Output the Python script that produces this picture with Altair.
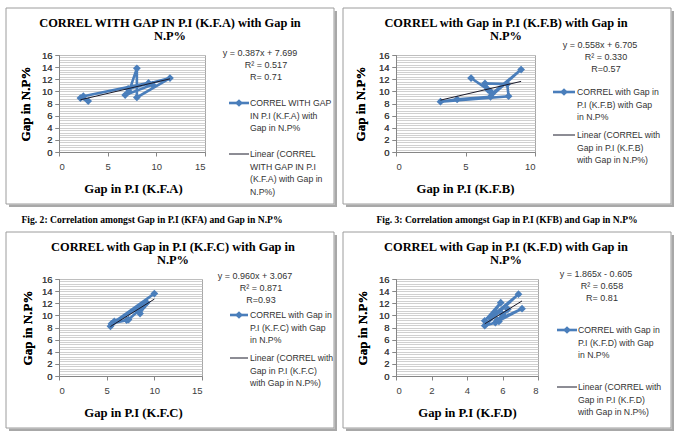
import altair as alt
import pandas as pd

# ---------------- data ----------------
kfa_x = [2.2, 3.0, 2.5, 9.2, 9.6, 6.8, 7.2, 8.0, 8.0, 11.4, 7.1]
kfa_y = [8.9, 8.4, 9.2, 11.4, 11.1, 9.4, 10.0, 13.8, 9.0, 12.2, 10.4]

kfb_x = [5.4, 6.8, 6.4, 8.0, 8.1, 3.2, 4.4, 6.8, 9.0, 6.9, 6.6]
kfb_y = [12.2, 10.0, 11.3, 11.2, 9.2, 8.3, 8.7, 9.1, 13.6, 9.6, 10.3]

kfc_x = [5.4, 10.0, 5.6, 7.1, 5.8, 9.2, 8.5, 8.8, 7.3, 9.0, 5.5]
kfc_y = [8.2, 13.6, 8.7, 9.2, 9.0, 12.1, 10.3, 11.4, 9.3, 11.8, 8.6]

kfd_x = [5.0, 5.9, 5.3, 6.9, 5.0, 5.6, 7.1, 5.7, 6.3, 5.8, 6.0]
kfd_y = [9.1, 12.1, 9.6, 13.5, 8.3, 8.8, 11.1, 9.2, 11.0, 9.0, 10.2]

titles = [
    ["CORREL WITH GAP IN P.I (K.F.A) with Gap in", "N.P%"],
    ["CORREL with Gap in P.I (K.F.B) with Gap in", "N.P%"],
    ["CORREL with Gap in P.I (K.F.C) with Gap in", "N.P%"],
    ["CORREL with Gap in P.I (K.F.D) with Gap in", "N.P%"],
]
x_titles = ["Gap in P.I (K.F.A)", "Gap in P.I (K.F.B)", "Gap in P.I (K.F.C)", "Gap in P.I (K.F.D)"]
y_title = "Gap in N.P%"
equations = [
    ["y = 0.387x + 7.699", "R² = 0.517", "R= 0.71"],
    ["y = 0.558x + 6.705", "R² = 0.330", "R=0.57"],
    ["y = 0.960x + 3.067", "R² = 0.871", "R=0.93"],
    ["y = 1.865x - 0.605", "R² = 0.658", "R= 0.81"],
]
series_labels = [
    ["CORREL WITH GAP", "IN P.I (K.F.A) with", "Gap in N.P%"],
    ["CORREL with Gap in", "P.I (K.F.B) with Gap", "in N.P%"],
    ["CORREL with Gap in", "P.I (K.F.C) with Gap", "in N.P%"],
    ["CORREL with Gap in", "P.I (K.F.D) with Gap", "in N.P%"],
]
trend_labels = [
    ["Linear (CORREL", "WITH GAP IN P.I", "(K.F.A) with Gap in", "N.P%)"],
    ["Linear (CORREL with", "Gap in P.I (K.F.B)", "with Gap in N.P%)"],
    ["Linear (CORREL with", "Gap in P.I (K.F.C)", "with Gap in N.P%)"],
    ["Linear (CORREL with", "Gap in P.I (K.F.D)", "with Gap in N.P%)"],
]
x_max = [15, 10, 15, 8]
x_step = [5, 5, 5, 2]
y_ticks = [0, 2, 4, 6, 8, 10, 12, 14, 16]
captions = [
    "Fig. 2: Correlation amongst Gap in P.I (KFA) and Gap in N.P%",
    "Fig. 3: Correlation amongst Gap in P.I (KFB) and Gap in N.P%",
    None,
    None,
]

# ---------------- styling / layout ----------------
BLUE = "#4a7ebb"
TREND = "#1a1a2a"
SANS = "Liberation Sans"
SERIF = "Liberation Serif"
AXC = "#868686"
TXT = "#333333"
H = 97
GRID_VALUES = [round(i * 0.4, 1) for i in range(41)]

layout = [
    dict(width=146, title_x=111, title_y=-32.5, eq_x=201, eq_y=-2, l1=(170, 190, 48), lt_x=191,
         l2_y=99, xt_x=74, yt_x=-34, cap_x=93),
    dict(width=139, title_x=110, title_y=-32.5, eq_x=204, eq_y=-10, l1=(157, 179, 37), lt_x=181,
         l2_y=80, xt_x=69, yt_x=-36, cap_x=111),
    dict(width=143, title_x=114, title_y=-32.5, eq_x=196, eq_y=-3, l1=(171, 189, 36), lt_x=191,
         l2_y=79, xt_x=74, yt_x=-32, cap_x=0),
    dict(width=142, title_x=110, title_y=-32.5, eq_x=200, eq_y=-5, l1=(161, 181, 51), lt_x=182,
         l2_y=108, xt_x=71, yt_x=-34, cap_x=0),
]

ONE = alt.Data(values=[{}])


def deco_rect(x, x2, y, y2, **kw):
    return alt.Chart(ONE).mark_rect(**kw).encode(
        x=alt.value(x), x2=alt.value(x2), y=alt.value(y), y2=alt.value(y2))


def text(s, x, y, align, **kw):
    return alt.Chart(ONE).mark_text(align=align, baseline="middle", **kw).encode(
        x=alt.value(x), y=alt.value(y), text=alt.value(s))


def text_lines(lines, x, y0, step, align, dx=None, **kw):
    out = []
    for j, s in enumerate(lines):
        xx = x + (dx[j] if dx else 0)
        out.append(text(s, xx, y0 + j * step, align, **kw))
    return out


def panel(k, xs, ys):
    L = layout[k]
    W = L["width"]
    df = pd.DataFrame({"x": xs, "y": ys, "i": list(range(len(xs)))})

    xaxis = alt.Axis(values=list(range(0, x_max[k] + 1, x_step[k])), grid=False,
                     title=x_titles[k], titleFont=SERIF, titleFontWeight="bold",
                     titleFontSize=12.7, titleColor="black", titleX=L["xt_x"], titleY=36,
                     titleAlign="center", titleBaseline="middle",
                     labelFont=SANS, labelFontSize=9.5, labelColor="#404040",
                     labelPadding=5, tickSize=4, tickColor=AXC, domainColor=AXC)
    yaxis = alt.Axis(values=y_ticks, grid=False, labelFont=SANS, labelFontSize=9.5,
                     labelColor="#404040", labelPadding=3, tickSize=4, tickColor=AXC,
                     domainColor=AXC, title=y_title, titleFont=SERIF, titleFontWeight="bold",
                     titleFontSize=13, titleColor="black", titleX=L["yt_x"], titleY=H / 2,
                     titleAlign="center", titleBaseline="middle", titleAngle=-90)
    gaxis = alt.Axis(values=GRID_VALUES, grid=True, gridColor="#c4c4c4", gridWidth=0.8,
                     labels=False, ticks=False, domain=False, title=None, orient="right")

    xsc = alt.Scale(domain=[0, x_max[k]], nice=False)
    ysc = alt.Scale(domain=[0, 16], nice=False)

    grid = alt.Chart(df).mark_point(opacity=0).encode(
        x=alt.X("x:Q", scale=xsc, axis=xaxis), y=alt.Y("y:Q", scale=ysc, axis=gaxis))

    line = alt.Chart(df).mark_line(
        color=BLUE, strokeWidth=2.6,
        point=alt.OverlayMarkDef(shape="diamond", filled=True, size=60, color=BLUE),
    ).encode(x=alt.X("x:Q", scale=xsc, axis=xaxis), y=alt.Y("y:Q", scale=ysc, axis=yaxis),
             order="i:O")

    trend = alt.Chart(df).transform_regression("x", "y").mark_line(
        color=TREND, strokeWidth=1).encode(x=alt.X("x:Q", scale=xsc, axis=xaxis),
                                            y=alt.Y("y:Q", scale=ysc, axis=yaxis))

    data_layer = alt.layer(grid, line, trend).resolve_axis(y="independent")

    box = deco_rect(-53, 275, -47, 149, fill="white", fillOpacity=0, stroke="#9c9c9c", strokeWidth=1)
    sh_r = deco_rect(275.5, 278, -44, 152, color="#a8a8a8")
    sh_b = deco_rect(-50, 278, 149.5, 152, color="#a8a8a8")

    parts = [data_layer, box, sh_r, sh_b]
    parts += text_lines(titles[k], L["title_x"], L["title_y"], 13.5, "center", font=SERIF,
                        fontWeight="bold", fontSize=12.4, color="black")
    parts += text_lines(equations[k], L["eq_x"], L["eq_y"], 12, "center", dx=[0, 6, 6],
                        font=SANS, fontSize=9, color=TXT)
    l1x1, l1x2, l1y = L["l1"]
    parts.append(alt.Chart(ONE).mark_rule(color=BLUE, strokeWidth=2.6).encode(
        x=alt.value(l1x1), x2=alt.value(l1x2), y=alt.value(l1y)))
    parts.append(alt.Chart(ONE).mark_point(shape="diamond", filled=True, size=60, color=BLUE,
                                           opacity=1).encode(
        x=alt.value((l1x1 + l1x2) / 2), y=alt.value(l1y)))
    parts += text_lines(series_labels[k], L["lt_x"], l1y, 12.5, "left", font=SANS,
                        fontSize=8.7, color=TXT)
    parts.append(alt.Chart(ONE).mark_rule(color=TREND, strokeWidth=1).encode(
        x=alt.value(l1x1), x2=alt.value(l1x2), y=alt.value(L["l2_y"])))
    parts += text_lines(trend_labels[k], L["lt_x"], L["l2_y"], 12.5, "left", font=SANS,
                        fontSize=8.7, color=TXT)
    if captions[k]:
        parts.append(text(captions[k], L["cap_x"], 165, "center", font=SERIF,
                          fontWeight="bold", fontSize=9.6, color="black"))

    return alt.layer(*parts).properties(width=W, height=H)


pA = panel(0, kfa_x, kfa_y)
pB = panel(1, kfb_x, kfb_y)
pC = panel(2, kfc_x, kfc_y)
pD = panel(3, kfd_x, kfd_y)

# flush grid layout: panels are placed by their plot areas only
chart = alt.concat(
    pA, pB, pC, pD,
    columns=2,
    spacing={"row": 127, "column": 191},
    bounds="flush",
).properties(
    autosize=alt.AutoSizeParams(type="none"),
    padding={"left": 59, "top": 55, "right": 624, "bottom": 378},
    background="white",
).configure_view(stroke="#a6a6a6", strokeWidth=1)

chart.save("out.html", embed_options={"renderer": "svg", "actions": False})
